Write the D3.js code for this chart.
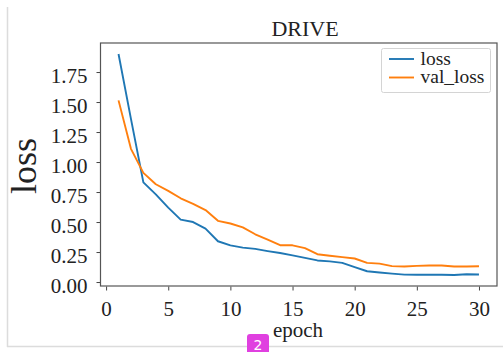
<!DOCTYPE html>
<html>
<head>
<meta charset="utf-8">
<script src="https://cdn.jsdelivr.net/npm/d3@7"></script>
<style>
  body { margin: 0; background: white; }
  text { font-family: "Liberation Serif", "Times New Roman", serif; fill: #222; }
</style>
</head>
<body>
<div class="chart"></div>
<script>
// DATA ***********************************************
var epochs = d3.range(1, 31);
var loss = [1.90, 1.36, 0.83, 0.73, 0.62, 0.52, 0.50, 0.445, 0.34, 0.305,
            0.287, 0.276, 0.258, 0.242, 0.222, 0.201, 0.18, 0.172, 0.16, 0.125,
            0.09, 0.079, 0.07, 0.062, 0.061, 0.061, 0.061, 0.059, 0.065, 0.063];
var valLoss = [1.514, 1.11, 0.91, 0.815, 0.76, 0.698, 0.652, 0.60, 0.51, 0.488,
               0.455, 0.398, 0.353, 0.307, 0.306, 0.283, 0.232, 0.219, 0.208, 0.196,
               0.16, 0.153, 0.133, 0.129, 0.135, 0.138, 0.138, 0.13, 0.13, 0.132];
var xTicks = [0, 5, 10, 15, 20, 25, 30];
var yTicks = [0, 0.25, 0.5, 0.75, 1.0, 1.25, 1.5, 1.75];
var seriesNames = ["loss", "val_loss"];
var seriesColors = ["#1f77b4", "#ff7f0e"];

// LAYOUT ***********************************************
var width = 503;
var height = 352;
var plot = {left: 100.5, right: 497, top: 43, bottom: 286};

var svg = d3.select("div.chart")
        .append("svg")
        .attr("width", width)
        .attr("height", height);

// outer frame of the screenshot
svg.append("line")
        .attr("x1", 7.5).attr("y1", 7).attr("x2", 7.5).attr("y2", 347)
        .style("stroke", "#dcdcdc").style("stroke-width", 1.5);
svg.append("line")
        .attr("x1", 7).attr("y1", 346.5).attr("x2", 503).attr("y2", 346.5)
        .style("stroke", "#dcdcdc").style("stroke-width", 1.5);

// scales with matplotlib style 5% margins
var xPad = (d3.max(epochs) - d3.min(epochs)) * 0.05;
var x = d3.scaleLinear()
        .domain([d3.min(epochs) - xPad, d3.max(epochs) + xPad])
        .range([plot.left, plot.right]);

var allVals = loss.concat(valLoss);
var yPad = (d3.max(allVals) - d3.min(allVals)) * 0.05;
var y = d3.scaleLinear()
        .domain([d3.min(allVals) - yPad, d3.max(allVals) + yPad])
        .range([plot.bottom, plot.top]);

// AXES ***********************************************
var xAxis = svg.append("g")
        .attr("transform", "translate(0," + (plot.bottom + 0.5) + ")")
        .call(d3.axisBottom(x).tickValues(xTicks).tickSize(4).tickPadding(10).tickFormat(d3.format("d")));

var yAxis = svg.append("g")
        .attr("transform", "translate(" + plot.left + ",0)")
        .call(d3.axisLeft(y).tickValues(yTicks).tickSize(4).tickPadding(9).tickFormat(d3.format(".2f")));

[xAxis, yAxis].forEach(function (g) {
        g.select(".domain").remove();
        g.selectAll(".tick line").style("stroke", "#444").style("stroke-width", 1);
        g.selectAll(".tick text")
                .style("font-family", "'Liberation Serif', serif")
                .style("font-size", "21px")
                .style("fill", "#222");
});
yAxis.selectAll(".tick text").attr("dy", "0.5em");
xAxis.selectAll(".tick text").attr("dy", "0.72em");

// plot frame
svg.append("rect")
        .attr("x", plot.left)
        .attr("y", plot.top)
        .attr("width", plot.right - plot.left)
        .attr("height", plot.bottom - plot.top)
        .attr("fill", "none")
        .attr("stroke", "#555")
        .attr("stroke-width", 1.2);

// LINES ***********************************************
var line = d3.line()
        .x(function (d, i) { return x(epochs[i]); })
        .y(function (d) { return y(d); });

[loss, valLoss].forEach(function (s, i) {
        svg.append("path")
                .datum(s)
                .attr("d", line)
                .attr("fill", "none")
                .attr("stroke", seriesColors[i])
                .attr("stroke-width", 1.9)
                .attr("stroke-linejoin", "round");
});

// TEXTS ***********************************************
svg.append("text")
        .text("DRIVE")
        .attr("x", 305)
        .attr("y", 35.5)
        .attr("text-anchor", "middle")
        .style("font-size", "22px");

svg.append("text")
        .text("epoch")
        .attr("x", 298)
        .attr("y", 337)
        .attr("text-anchor", "middle")
        .style("font-size", "21px");

svg.append("text")
        .text("loss")
        .attr("transform", "translate(36,166) rotate(-90)")
        .attr("text-anchor", "middle")
        .style("font-size", "36px");

// LEGEND ***********************************************
var legend = svg.append("g");
legend.append("rect")
        .attr("x", 381.5)
        .attr("y", 48.5)
        .attr("width", 109)
        .attr("height", 44)
        .attr("rx", 2)
        .attr("fill", "white")
        .attr("stroke", "#d4d4d4");

seriesNames.forEach(function (name, i) {
        var ly = 59 + i * 18.5;
        legend.append("line")
                .attr("x1", 389).attr("x2", 414)
                .attr("y1", ly).attr("y2", ly)
                .style("stroke", seriesColors[i])
                .style("stroke-width", 1.9);
        legend.append("text")
                .text(name)
                .attr("x", 420.5)
                .attr("y", ly + 5.5)
                .style("font-size", "19.5px");
});

// page badge from the screenshot
svg.append("rect")
        .attr("x", 247)
        .attr("y", 334)
        .attr("width", 22)
        .attr("height", 24)
        .attr("rx", 3)
        .attr("fill", "#e040e0");
svg.append("text")
        .text("2")
        .attr("x", 258)
        .attr("y", 350)
        .attr("text-anchor", "middle")
        .style("font-family", "'DejaVu Sans', sans-serif")
        .style("font-size", "14px")
        .style("fill", "white");
</script>
</body>
</html>
